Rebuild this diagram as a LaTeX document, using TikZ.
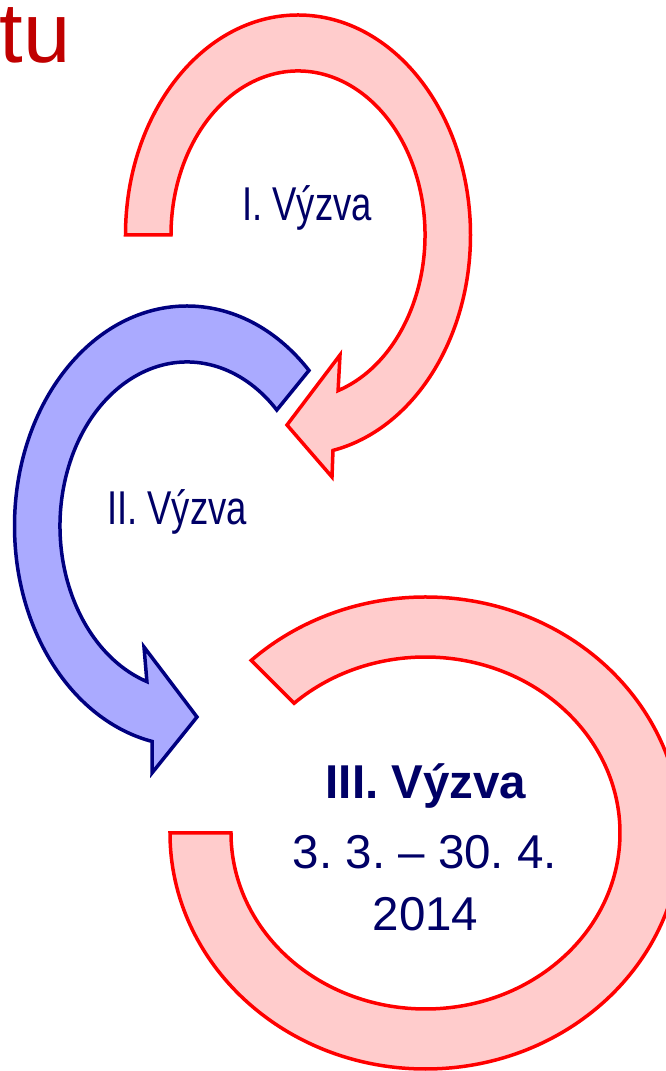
\documentclass[tikz,border=0pt]{standalone}
\usepackage{fontspec}
\setmainfont{Liberation Sans}
\usepackage{tikz}
\usetikzlibrary{calc}
\definecolor{arrowred}{RGB}{255,0,0}
\definecolor{arrowpink}{RGB}{255,204,204}
\definecolor{arrownavy}{RGB}{0,0,128}
\definecolor{arrowblue}{RGB}{170,170,255}
\definecolor{textnavy}{RGB}{0,0,102}
\definecolor{titlered}{RGB}{192,0,0}
\newcommand{\bandRed}{\filldraw[draw=arrowred, fill=arrowpink, line width=3.5pt]}
\newcommand{\bandBlue}{\filldraw[draw=arrownavy, fill=arrowblue, line width=3.5pt]}
\newcommand{\tall}[1]{\scalebox{1}[1.3]{\fontsize{36.5}{44}\selectfont #1}}
\newcommand{\lablvyzva}[4]{\node[text=textnavy, inner sep=0pt, anchor=base] (#1) at ( #2 , #3 ) {#4};}

\begin{document}
\frenchspacing
\begin{tikzpicture}[x=1pt, y=1pt]
        \path[use as bounding box, clip] (0,0) rectangle (666,1071);

        % centres of the three rings
        \coordinate (c1) at (298,836);
        \coordinate (c2) at (187,545);
        \coordinate (c3) at (425.5,238);

        % I. -> II.
        \bandRed ($(c1)+(180:172.5 and 220)$) arc[start angle=180, end angle=-78.3, x radius=172.5, y radius=220]
            -- (332,594) -- (287,646) -- (340,716)
            -- ($(c1)+(-71.6:127 and 164)$) arc[start angle=-71.6, end angle=180, x radius=127, y radius=164] -- cycle;

        % II. -> III.
        \bandBlue ($(c2)+(45:172.5 and 220)$) arc[start angle=45, end angle=258.3, x radius=172.5, y radius=220]
            -- (152,298) -- (197,354) -- (144,424)
            -- ($(c2)+(251.6:127 and 164)$) arc[start angle=251.6, end angle=45, x radius=127, y radius=164] -- cycle;

        % III.
        \bandRed ($(c3)+(180:255.5 and 236)$) arc[start angle=180, end angle=493, x radius=255.5, y radius=236]
            -- ($(c3)+(132.5:194.5 and 176)$) arc[start angle=492.5, end angle=180, x radius=194.5, y radius=176] -- cycle;

        \node[text=titlered, inner sep=0pt, anchor=base east, font=\fontsize{85}{100}\selectfont] (titul) at (70.5,1008) {tu};

        \lablvyzva{vyzvaI}{307}{850}{\tall{I. Výzva}}
        \lablvyzva{vyzvaII}{177}{546}{\tall{II. Výzva}}
        \lablvyzva{vyzvaIII}{426}{272}{\fontsize{47.5}{57}\selectfont\bfseries III. Výzva}
        \lablvyzva{datum}{425}{202}{\fontsize{47.5}{57}\selectfont 3. 3. – 30. 4.}
        \lablvyzva{rok}{425.5}{140}{\fontsize{47.5}{57}\selectfont 2014}
    \end{tikzpicture}
\end{document}
